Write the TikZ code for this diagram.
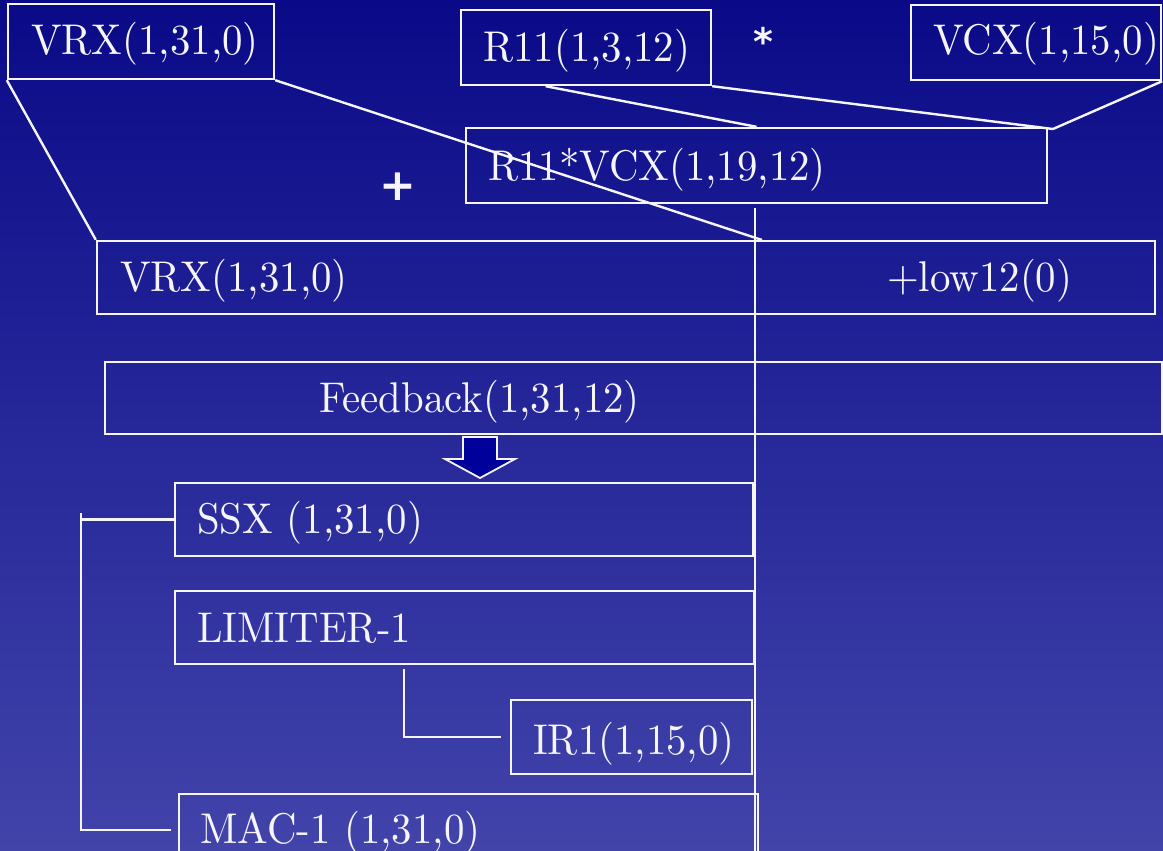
\documentclass[tikz,border=0pt]{standalone}
\usepackage{fontspec}
\setmainfont{lmroman10-regular.otf}[BoldFont=lmroman10-bold.otf, FakeStretch=0.95]
\newfontfamily\signfont{DejaVu Sans}
\usetikzlibrary{fit,calc}

\definecolor{bgtop}{RGB}{10,10,136}
\definecolor{bgbot}{RGB}{66,68,170}
\definecolor{arrowblue}{RGB}{0,0,154}
\definecolor{ink}{RGB}{246,246,250}

\tikzset{
  wire/.style={draw=ink, line width=2.4pt},
  box/.style={draw=ink, line width=2.4pt, inner sep=0pt, rectangle},
  lbl/.style={text=ink, font=\fontsize{43}{48}\selectfont, inner sep=0pt, anchor=base west},
  opsign/.style={text=ink, inner sep=0pt, anchor=base}
}

\begin{document}
\begin{tikzpicture}[x=1pt, y=-1pt]
  \useasboundingbox (0,0) rectangle (1163,851);
  \fill[top color=bgtop, bottom color=bgbot] (0,0) rectangle (1163,851);

  % operand boxes
  \node[box, fit={(8,4) (274,79)}]      (vrxa) {};
  \node[box, fit={(461,10) (711,85)}]   (r11)  {};
  \node[box, fit={(911,5) (1161,80)}]   (vcx)  {};
  \node[box, fit={(466,128) (1047,203)}] (mul) {};
  \node[box, fit={(97,241) (1155,314)}] (vrxb) {};
  \node[box, fit={(105,362) (1162,434)}] (fb)  {};
  \node[box, fit={(175,483) (753,556)}] (ssx)  {};
  \node[box, fit={(175,591) (754,664)}] (lim)  {};
  \node[box, fit={(511,700) (752,774)}] (ir1)  {};
  \node[box, fit={(179,794) (758,866)}] (mac)  {};

  % labels
  \node[lbl] (tvrxa) at (31,55)   {VRX(1,31,0)};
  \node[lbl] (tr11)  at (483,62)  {R11(1,3,12)};
  \node[lbl] (tvcx)  at (933,55)  {VCX(1,15,0)};
  \node[lbl] (tmul)  at (488,180) {R11*VCX(1,19,12)};
  \node[lbl] (tvrxb) at (120,291) {VRX(1,31,0)};
  \node[lbl] (tlow)  at (887,291) {+low12(0)};
  \node[lbl] (tfb)   at (319,412) {Feedback(1,31,12)};
  \node[lbl] (tssx)  at (197,533) {SSX (1,31,0)};
  \node[lbl] (tlim)  at (197,642) {LIMITER-1};
  \node[lbl] (tir1)  at (533,754) {IR1(1,15,0)};
  \node[lbl] (tmac)  at (200,843) {MAC-1 (1,31,0)};

  % operator signs
  \node[opsign, font=\signfont\bfseries\fontsize{38}{40}\selectfont] (times) at (763,56) {*};
  \node[opsign, font=\signfont\bfseries\fontsize{44}{48}\selectfont] (plus)  at (398,200) {+};

  % product: R11 * VCX
  \coordinate (mulin) at (1053,129);
  \draw[wire] ($(r11.south west)!0.34!(r11.south east)$) -- (mul.north);
  \draw[wire] (r11.south east) -- (mulin);
  \draw[wire] (vcx.south east) -- (mulin);

  % sum: VRX + product
  \coordinate (sumin) at (762,240);
  \draw[wire] (vrxa.south west) -- (vrxb.north west);
  \draw[wire] (vrxa.south east) -- (sumin);

  % trunk running down from the product
  \coordinate (trunkbot) at (755,855);
  \draw[wire] ([yshift=-4pt]mul.south -| trunkbot) -- (trunkbot);

  % feedback arrow
  \draw[ink, line width=1.8pt, fill=arrowblue]
    (463,437) -- (497,437) -- (497,459) -- (515,459) -- (480,478)
    -- (445,459) -- (463,459) -- cycle;

  % bracket SSX -> MAC-1
  \coordinate (brtop) at (81,513);
  \draw[wire] (ssx.west) -- (ssx.west -| brtop);
  \draw[wire] (brtop) |- ([xshift=-7pt]mac.west);

  % LIMITER-1 -> IR1
  \draw[wire] ($(lim.south west)+(230,4)$) |- ([xshift=-9pt]ir1.west);
\end{tikzpicture}
\end{document}
